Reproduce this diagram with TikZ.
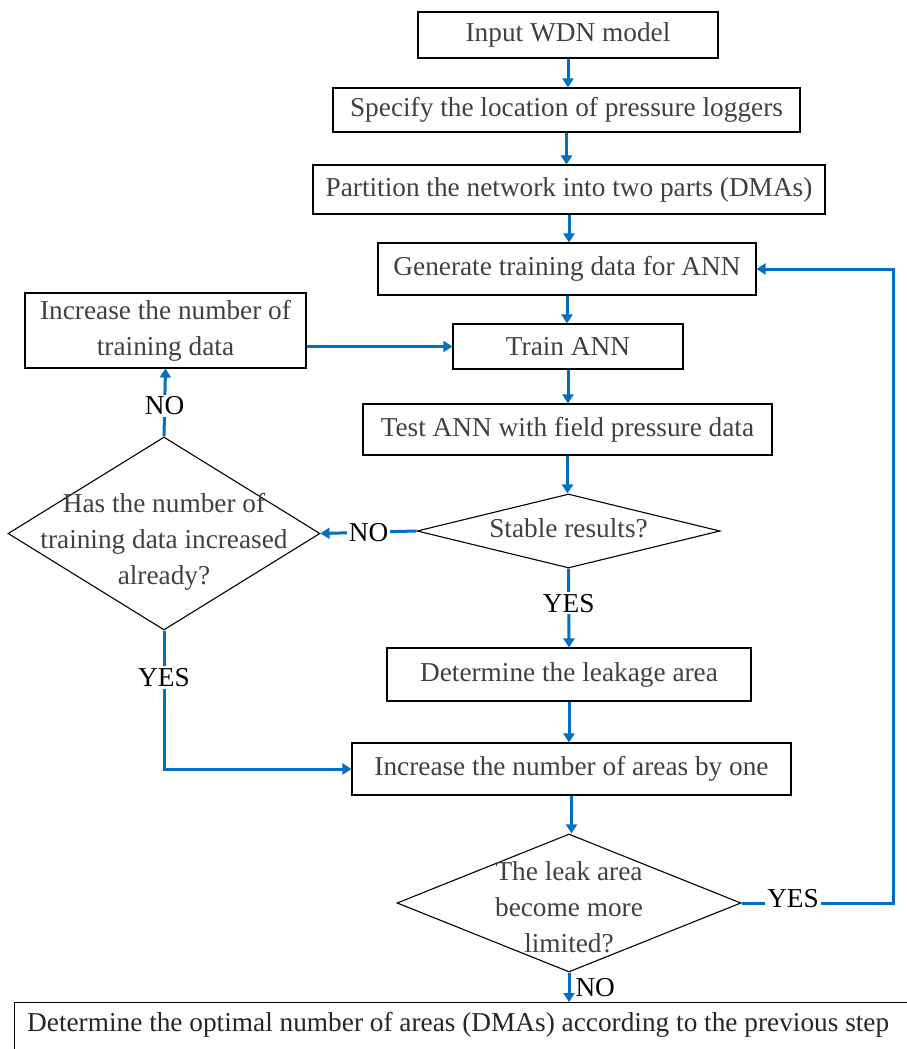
\documentclass[tikz,border=0pt]{standalone}
\usepackage{fontspec}
\setmainfont{Liberation Serif}
\usetikzlibrary{arrows.meta,shapes.geometric}
\definecolor{flowblue}{RGB}{0,112,192}
\definecolor{boxtext}{RGB}{64,64,64}

\begin{document}
\begin{tikzpicture}[x=1pt, y=-1pt,
		font=\fontsize{27.3}{36}\selectfont,
		box/.style={draw, line width=1.1pt, text=boxtext, inner sep=0pt, align=center},
		decision/.style={draw, diamond, line width=1.1pt, inner sep=0pt},
		question/.style={text=boxtext, align=center, inner sep=0pt},
		flow/.style={draw=flowblue, line width=3pt, -{Triangle[length=9pt,width=11pt]}},
		answer/.style={fill=white, text=black, inner sep=2pt}]
		\useasboundingbox (0,0) rectangle (907,1049);
		
		% boxes
		\node[box, minimum width=300pt, minimum height=46pt] (input) at (568, 35) {Input WDN model};
		\node[box, minimum width=467pt, minimum height=44pt] (loggers) at (566.5, 110) {Specify the location of pressure loggers};
		\node[box, minimum width=512pt, minimum height=49pt] (partition) at (569, 189.5) {Partition the network into two parts (DMAs)};
		\node[box, minimum width=378pt, minimum height=52pt] (gendata) at (567, 269) {Generate training data for ANN};
		\node[box, minimum width=281pt, minimum height=75pt] (incdata) at (165.5, 330.5) {Increase the number of\\training data};
		\node[box, minimum width=230pt, minimum height=45pt] (train) at (568, 346.5) {Train ANN};
		\node[box, minimum width=409pt, minimum height=51pt] (test) at (567.5, 429.5) {Test ANN with field pressure data};
		\node[box, minimum width=364pt, minimum height=53pt] (leakarea) at (569, 674.5) {Determine the leakage area};
		\node[box, minimum width=439pt, minimum height=52pt] (incareas) at (571.5, 769) {Increase the number of areas by one};
		\node[box, minimum width=920pt, minimum height=70pt, anchor=north west] (optimal) at (14, 1002) {};
		\node[question, text=black!85, anchor=west] (optimal-txt) at (27, 1025) {Determine the optimal number of areas (DMAs) according to the previous step};
		
		% decisions
		\node[decision, minimum width=303pt, minimum height=74pt] (stable) at (568.5, 531) {};
		\node[question] (stable-txt) at (568.5, 528) {Stable results?};
		\node[decision, minimum width=312pt, minimum height=193pt] (hasinc) at (164, 533.5) {};
		\node[question] (hasinc-txt) at (164, 542) {Has the number of\\training data increased\\already?};
		\node[decision, minimum width=344pt, minimum height=138pt] (limited) at (569, 903) {};
		\node[question] (limited-txt) at (569, 907) {The leak area\\become more\\limited?};
		
		\coordinate (loopr) at (893, 903);
		
		\draw [flow] (input.south) to (input.south |- loggers.north);
		\draw [flow] (loggers.south) to (loggers.south |- partition.north);
		\draw [flow] (partition.south) to (partition.south |- gendata.north);
		\draw [flow] (gendata.south) to (gendata.south |- train.north);
		\draw [flow] (train.south) to (train.south |- test.north);
		\draw [flow] (test.south) to (test.south |- stable.north);
		\draw [flow] (incdata.east |- train.west) to (train.west);
		\draw [flow] (stable.west) to node[answer] (no1) {NO} (hasinc.east);
		\draw [flow] (hasinc.north) to node[answer, pos=0.45] (no2) {NO} (incdata.south);
		\draw [flow] (stable.south) to node[answer, pos=0.44] (yes1) {YES} (leakarea.north);
		\draw [flow] (hasinc.south) |- node[answer, pos=0.17] (yes2) {YES} (incareas.west);
		\draw [flow] (leakarea.south) to (leakarea.south |- incareas.north);
		\draw [flow] (incareas.south) to (incareas.south |- limited.north);
		\draw [flow] (limited.east) -- node[answer, pos=0.34, yshift=4pt] (yes3) {YES} (loopr) |- (gendata.east);
		\draw [flow] (limited.south) to node[right, text=black, inner sep=5pt] (no3) {NO} (optimal.north -| limited.south);
\end{tikzpicture}
\end{document}
